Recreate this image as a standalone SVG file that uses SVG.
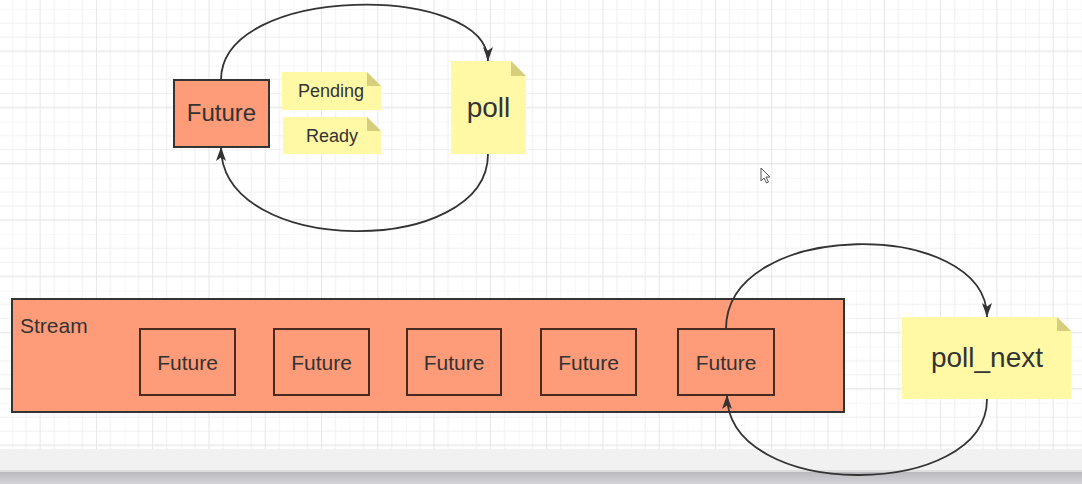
<svg xmlns="http://www.w3.org/2000/svg" width="1082" height="484" viewBox="0 0 1082 484">
  <defs>
    <pattern id="grid" x="12" y="9" width="56.28" height="56.28" patternUnits="userSpaceOnUse">
      <path d="M0,0 V56.28 M14.07,0 V56.28 M28.14,0 V56.28 M42.21,0 V56.28 M0,0 H56.28 M0,14.07 H56.28 M0,28.14 H56.28 M0,42.21 H56.28" stroke="#efefef" stroke-width="1" fill="none"/>
      <path d="M28.14,0 V56.28 M0,42.21 H56.28" stroke="#e6e6e6" stroke-width="1" fill="none"/>
    </pattern>
    <linearGradient id="band" x1="0" y1="0" x2="0" y2="1">
      <stop offset="0" stop-color="#b9b9be"/>
      <stop offset="1" stop-color="#d3d3d8"/>
    </linearGradient>
    <marker id="arrow" markerUnits="userSpaceOnUse" viewBox="0 0 14 10" refX="14" refY="5" markerWidth="14" markerHeight="10" orient="auto">
      <path d="M0,0 L14,5 L0,10 L3.5,5 z" fill="#333333"/>
    </marker>
  </defs>
  <style>
    .txt { font-family: "Liberation Sans", Arial, sans-serif; fill: #333333; text-anchor: middle; }
    .box { fill: #FE9B78; stroke: #333333; stroke-width: 2; }
    .inner { fill: #FE9B78; stroke: #4a2a20; stroke-width: 2; }
    .note { fill: #FFF9A6; }
    .fold { fill: #D6CE7C; }
    .edge { fill: none; stroke: #333333; stroke-width: 1.8; marker-end: url(#arrow); }
  </style>

  <rect width="1082" height="484" fill="#ffffff"/>
  <rect width="1082" height="449" fill="url(#grid)"/>
  <rect y="449" width="1082" height="21" fill="#f1f1f1"/>
  <rect y="470" width="1082" height="2" fill="#dedede"/>
  <rect y="472" width="1082" height="12" fill="url(#band)"/>

  <g id="future-top">
    <rect class="box" x="174" y="80" width="95" height="67"/>
    <text class="txt" x="221.5" y="121" font-size="24">Future</text>
  </g>

  <g id="pending">
    <path class="note" d="M282,72 H367 L381,86 V110 H282 Z"/>
    <path class="fold" d="M367,72 L381,86 H367 Z"/>
    <text class="txt" x="331" y="97" font-size="18">Pending</text>
  </g>

  <g id="ready">
    <path class="note" d="M283,117 H367 L381,131 V154 H283 Z"/>
    <path class="fold" d="M367,117 L381,131 H367 Z"/>
    <text class="txt" x="332" y="142" font-size="18">Ready</text>
  </g>

  <g id="poll">
    <path class="note" d="M451,61 H511 L526,76 V154 H451 Z"/>
    <path class="fold" d="M511,61 L526,76 H511 Z"/>
    <text class="txt" x="488.5" y="117" font-size="28">poll</text>
  </g>

  <g id="stream">
    <rect class="box" x="12" y="299" width="832" height="113"/>
    <text font-family="Liberation Sans, Arial, sans-serif" fill="#333333" x="20" y="333" font-size="21">Stream</text>
  </g>

  <g id="future-1">
    <rect class="inner" x="140" y="329" width="95" height="66"/>
    <text class="txt" x="187.5" y="370" font-size="21">Future</text>
  </g>
  <g id="future-2">
    <rect class="inner" x="274" y="329" width="95" height="66"/>
    <text class="txt" x="321.5" y="370" font-size="21">Future</text>
  </g>
  <g id="future-3">
    <rect class="inner" x="407" y="329" width="94" height="66"/>
    <text class="txt" x="454" y="370" font-size="21">Future</text>
  </g>
  <g id="future-4">
    <rect class="inner" x="541" y="329" width="95" height="66"/>
    <text class="txt" x="588.5" y="370" font-size="21">Future</text>
  </g>
  <g id="future-5">
    <rect class="inner" x="678" y="329" width="96" height="66"/>
    <text class="txt" x="726" y="370" font-size="21">Future</text>
  </g>

  <g id="poll-next">
    <path class="note" d="M902,317 H1057 L1071,331 V399 H902 Z"/>
    <path class="fold" d="M1057,317 L1071,331 H1057 Z"/>
    <text class="txt" x="987" y="367" font-size="28">poll_next</text>
  </g>

  <g id="connectors">
    <path class="edge" d="M221,80 C221,-17 488,-17 488,61"/>
    <path class="edge" d="M488,154 C488,258 221,258 221,147"/>
    <path class="edge" d="M726,329 C726,218 987,218 987,317"/>
    <path class="edge" d="M987,399 C987,501 727,501 727,395"/>
  </g>

  <g id="cursor">
    <path d="M761,168 L761,181 L764,178 L766.5,183 L768.5,182 L766,177 L770,177 Z" fill="#ffffff" stroke="#555555" stroke-width="1"/>
  </g>
</svg>
